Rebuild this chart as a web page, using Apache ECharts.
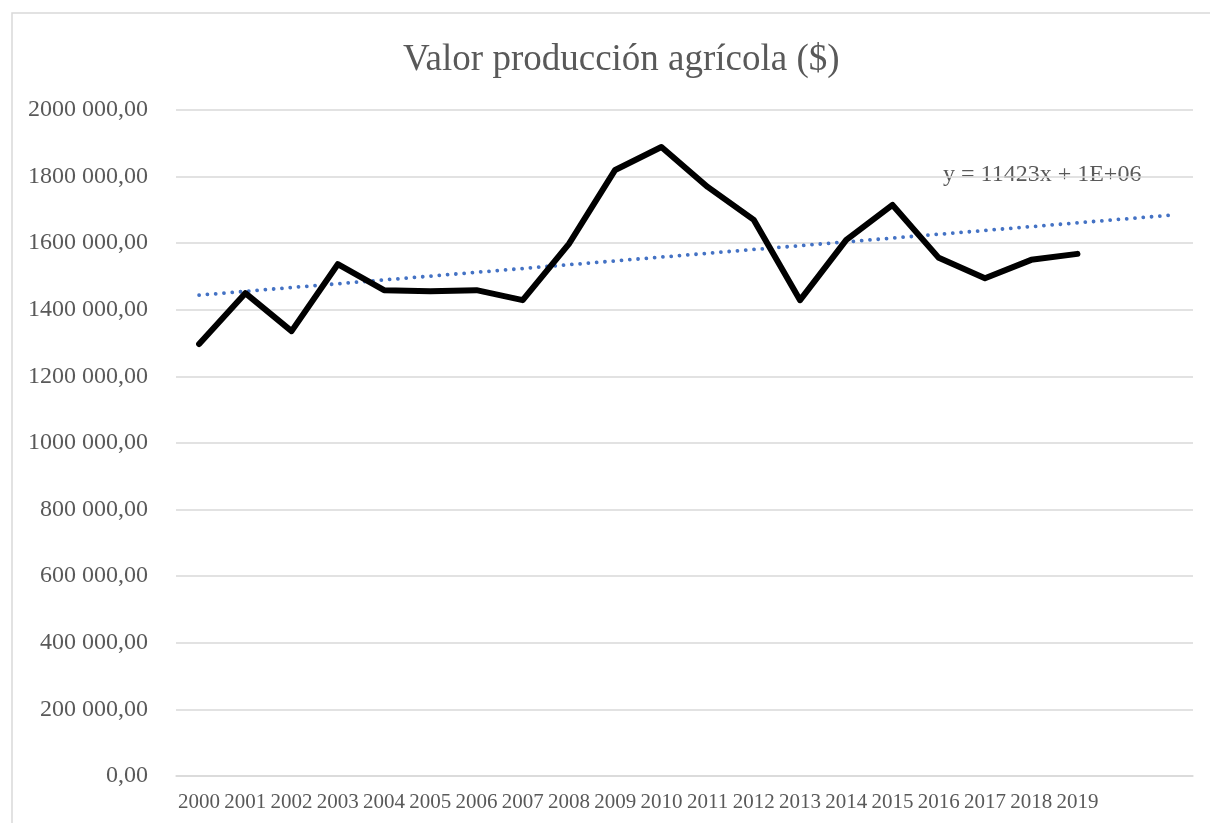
<!DOCTYPE html>
<html>
<head>
<meta charset="utf-8">
<script src="https://cdn.jsdelivr.net/npm/echarts@6/dist/echarts.min.js"></script>
<style>
  html, body { margin: 0; padding: 0; background: #fff; }
  #chart { width: 1210px; height: 823px; }
</style>
</head>
<body>
<div id="chart"></div>
<script>
// años (dos huecos al final donde solo llega la línea de tendencia)
var years = ['2000', '2001', '2002', '2003', '2004', '2005', '2006', '2007', '2008', '2009',
  '2010', '2011', '2012', '2013', '2014', '2015', '2016', '2017', '2018', '2019', '', ''];
var valores = [1297000, 1450000, 1336000, 1537000, 1459000, 1456000, 1459000, 1429000, 1598000, 1820000,
  1889000, 1769000, 1670000, 1429000, 1610000, 1715000, 1556000, 1495000, 1550000, 1568000];
// tendencia lineal: extremos (2000 y dos periodos después de 2019)
var tendenciaInicio = 1444000;
var tendenciaFin = 1684000;
var etiquetaTendencia = 'y = 11423x + 1E+06';

var tendencia = years.map(function (y, i)
{
  if (i === 0) return tendenciaInicio;
  if (i === years.length - 1) return tendenciaFin;
  return null;
});

function formatoValor (v)
{
  if (v === 0) return '0,00';
  var miles = Math.floor(v / 1000);
  var resto = String(v % 1000);
  while (resto.length < 3) resto = '0' + resto;
  return miles + ' ' + resto + ',00';
}

var fuente = '"Liberation Serif", "Times New Roman", serif';
var gris = '#595959';

var chart = echarts.init(document.getElementById('chart'));
chart.setOption({
  animation: false,
  backgroundColor: '#fff',
  title: {
    text: 'Valor producción agrícola ($)',
    left: 398,
    top: 37,
    textStyle: { fontFamily: fuente, fontSize: 37, fontWeight: 'normal', color: gris }
  },
  grid: { left: 176, right: 17, top: 110, bottom: 47 },
  xAxis: {
    type: 'category',
    data: years,
    boundaryGap: true,
    axisLine: { show: true, lineStyle: { color: '#d9d9d9', width: 1.5 } },
    axisTick: { show: false },
    axisLabel: { interval: 0, margin: 16, fontFamily: fuente, fontSize: 21, color: gris }
  },
  yAxis: {
    type: 'value',
    min: 0,
    max: 2000000,
    interval: 200000,
    axisLine: { show: false },
    axisTick: { show: false },
    splitLine: { lineStyle: { color: '#d9d9d9', width: 1.5 } },
    axisLabel: { margin: 28, fontFamily: fuente, fontSize: 24, color: gris, formatter: formatoValor }
  },
  graphic: [
    {
      type: 'rect',
      shape: { x: 12, y: 13, width: 1230, height: 840 },
      style: { fill: 'none', stroke: '#d9d9d9', lineWidth: 1.5 },
      silent: true
    },
    {
      type: 'text',
      left: 943,
      top: 163,
      style: { text: etiquetaTendencia, font: '24px ' + fuente, fill: gris }
    }
  ],
  series: [
    {
      type: 'line',
      data: tendencia,
      connectNulls: true,
      symbol: 'none',
      lineStyle: { color: '#4472c4', width: 3.8, type: [0.01, 8.3], cap: 'round' },
      z: 2
    },
    {
      type: 'line',
      data: valores,
      symbol: 'none',
      lineStyle: { color: '#000', width: 6, join: 'round', cap: 'round' },
      z: 3
    }
  ]
});
</script>
</body>
</html>
